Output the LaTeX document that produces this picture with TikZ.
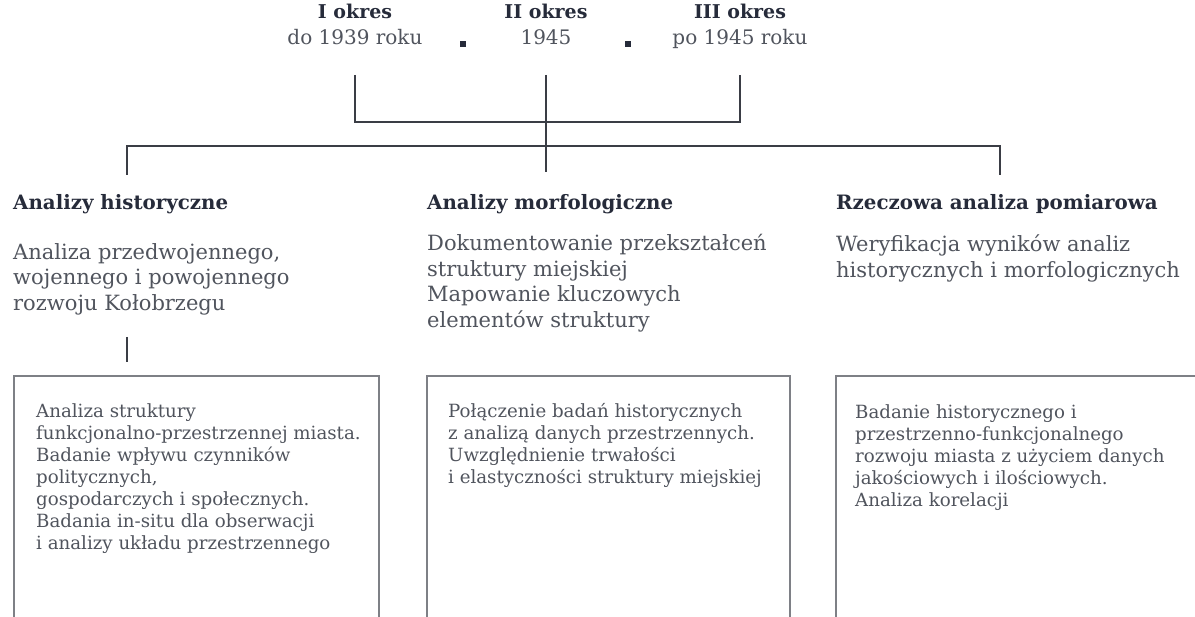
\documentclass[tikz,border=0pt]{standalone}
\usepackage{fontspec}
\setmainfont{DejaVu Serif}
\usetikzlibrary{positioning}

\definecolor{headcol}{HTML}{262B3A}
\definecolor{textcol}{HTML}{50545D}
\definecolor{linecol}{HTML}{3A3D45}
\definecolor{framecol}{HTML}{7E8086}

\tikzset{
  period/.style={anchor=base, inner sep=0pt, text=headcol, font=\fontsize{19}{24}\bfseries\selectfont},
  date/.style={anchor=base, inner sep=0pt, text=textcol, font=\fontsize{20}{24}\selectfont},
  dotsep/.style={fill=headcol, minimum size=6pt, inner sep=0pt},
  heading/.style={anchor=base west, inner sep=0pt, text=headcol, font=\fontsize{19.8}{24}\bfseries\selectfont},
  summary/.style={anchor=north west, inner sep=0pt, align=left, text=textcol, font=\fontsize{21}{25.5}\selectfont},
  detail/.style={anchor=north west, inner sep=0pt, align=left, text=textcol, font=\fontsize{18.2}{22}\selectfont},
  frame/.style={draw=framecol, line width=1.6pt, anchor=north west, minimum height=320pt},
  link/.style={draw=linecol, line width=1.6pt}
}

\begin{document}
\begin{tikzpicture}[x=1pt, y=-1pt]
\useasboundingbox (0,0) rectangle (1195,617);
\clip (0,0) rectangle (1195,617);

% periods
\node[period] (pl1) at (355,19) {I okres};
\node[date]   (pd1) at (355,45) {do 1939 roku};
\node[period] (pl2) at (546,19) {II okres};
\node[date]   (pd2) at (546,45) {1945};
\node[period] (pl3) at (740,19) {III okres};
\node[date]   (pd3) at (740,45) {po 1945 roku};
\node[dotsep] (sep1) at (463,44) {};
\node[dotsep] (sep2) at (628,44) {};

% methods
\node[heading] (h1) at (13,210)  {Analizy historyczne};
\node[heading] (h2) at (427,210) {Analizy morfologiczne};
\node[heading] (h3) at (836,210) {Rzeczowa analiza pomiarowa};

\node[summary] (s1) at (13,243)  {Analiza przedwojennego,\\wojennego i powojennego\\rozwoju Kołobrzegu};
\node[summary] (s2) at (427,234) {Dokumentowanie przekształceń\\struktury miejskiej\\Mapowanie kluczowych\\elementów struktury};
\node[summary] (s3) at (836,235) {Weryfikacja wyników analiz\\historycznych i morfologicznych};

% boxes
\node[frame, minimum width=365pt] (f1) at (13,375)  {};
\node[frame, minimum width=363pt] (f2) at (426,375) {};
\node[frame, minimum width=400pt] (f3) at (835,375) {};

\node[detail, below right=28pt and 23pt of f1.north west] (t1)
  {Analiza struktury\\funkcjonalno-przestrzennej miasta.\\Badanie wpływu czynników\\politycznych,\\gospodarczych i społecznych.\\Badania in-situ dla obserwacji\\i analizy układu przestrzennego};
\node[detail, below right=28pt and 22pt of f2.north west] (t2)
  {Połączenie badań historycznych\\z analizą danych przestrzennych.\\Uwzględnienie trwałości\\i elastyczności struktury miejskiej};
\node[detail, below right=29pt and 20pt of f3.north west] (t3)
  {Badanie historycznego i\\przestrzenno-funkcjonalnego\\rozwoju miasta z użyciem danych\\jakościowych i ilościowych.\\Analiza korelacji};

% connectors
\coordinate (m1) at (546,122);
\coordinate (m2) at (546,146);
\coordinate (c1) at (127,175);
\coordinate (c2) at (546,172);
\coordinate (c3) at (1000,175);
\coordinate (d1) at (127,337);
\coordinate (d2) at (127,362);

\draw[link] ([yshift=-30pt]pd1.base) |- (m1) -| ([yshift=-30pt]pd3.base);
\draw[link] ([yshift=-30pt]pd2.base) -- (c2);
\draw[link] (c1) |- (m2) -| (c3);
\draw[link] (d1) -- (d2);
\end{tikzpicture}
\end{document}
